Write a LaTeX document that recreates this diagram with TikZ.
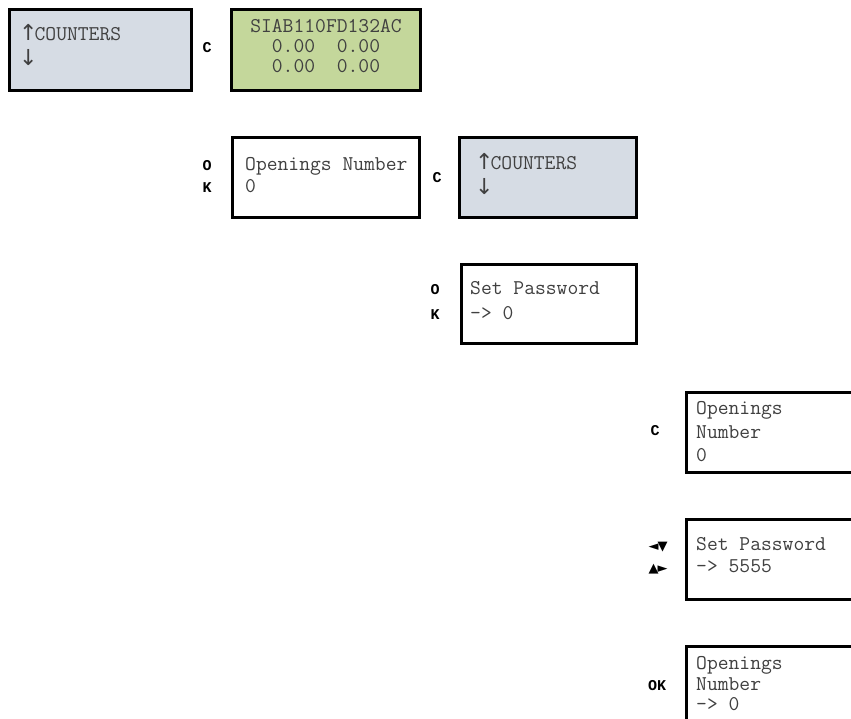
\documentclass[tikz,border=0pt]{standalone}
\usepackage{fontspec}
\newfontfamily\symfont{DejaVu Sans}
\newfontfamily\lblfont{Liberation Mono}
\definecolor{lcdgray}{HTML}{D6DCE4}
\definecolor{lcdgreen}{HTML}{C4D79B}
\definecolor{txt}{HTML}{404040}
\newcommand{\arr}[1]{{\symfont\fontsize{22}{22}\selectfont #1}}
\tikzset{
  lcd/.style={draw=black, line width=3pt},
  lcdtext/.style={anchor=mid west, inner sep=0pt, text=txt, font=\ttfamily\fontsize{21}{22}\selectfont},
  ctext/.style={anchor=mid, inner sep=0pt, text=txt, font=\ttfamily\fontsize{21}{22}\selectfont},
  keylbl/.style={anchor=mid, inner sep=0pt, text=black, font=\lblfont\bfseries\fontsize{15}{16}\selectfont},
  tri/.style={anchor=mid, inner sep=0pt, text=black, font=\symfont\fontsize{13}{14}\selectfont}
}
\begin{document}
\begin{tikzpicture}[x=1pt,y=-1pt]
\useasboundingbox (0,0) rectangle (851,719);
\clip (0,0) rectangle (851,719);
% boxes
\draw[lcd, fill=lcdgray] (9.5,9.5) rectangle (191.5,90.5) coordinate (b1);
\draw[lcd, fill=lcdgreen] (231.5,9.5) rectangle (420.5,90.5) coordinate (b2);
\draw[lcd, fill=white] (232.5,137.5) rectangle (419.5,217.5) coordinate (b3);
\draw[lcd, fill=lcdgray] (459.5,137.5) rectangle (636.5,217.5) coordinate (b4);
\draw[lcd, fill=white] (461.5,264.5) rectangle (636.5,343.5) coordinate (b5);
\draw[lcd, fill=white] (686.5,392.5) rectangle (880,472.5) coordinate (b6);
\draw[lcd, fill=white] (686.5,519.5) rectangle (880,599.5) coordinate (b7);
\draw[lcd, fill=white] (686.5,646.5) rectangle (880,740) coordinate (b8);
% box 1
\node[lcdtext] (t1a) at (19,38) {\arr{↑}\kern-3pt COUNTERS};
\node[lcdtext] (t1b) at (19,63) {\arr{↓}};
\node[keylbl] (k1) at (207,50) {C};
% box 2
\node[ctext] (t2a) at (326,30) {SIAB110FD132AC};
\node[ctext] (t2b) at (326,50) {0.00\ \ 0.00};
\node[ctext] (t2c) at (326,70) {0.00\ \ 0.00};
% box 3
\node[keylbl] (k3a) at (207,168) {O};
\node[keylbl] (k3b) at (207,190) {K};
\node[lcdtext] (t3a) at (245,168) {Openings Number};
\node[lcdtext] (t3b) at (245,190) {0};
\node[keylbl] (k4) at (437,180) {C};
% box 4
\node[lcdtext] (t4a) at (475,167) {\arr{↑}\kern-3pt COUNTERS};
\node[lcdtext] (t4b) at (475,192) {\arr{↓}};
% box 5
\node[keylbl] (k5a) at (435,292) {O};
\node[keylbl] (k5b) at (435,317) {K};
\node[lcdtext] (t5a) at (470,292) {Set Password};
\node[lcdtext] (t5b) at (470,317) {-> 0};
% box 6
\node[keylbl] (k6) at (655,433) {C};
\node[lcdtext] (t6a) at (696,412) {Openings};
\node[lcdtext] (t6b) at (696,436) {Number};
\node[lcdtext] (t6c) at (696,459) {0};
% box 7
\node[tri] (k7a) at (658,548) {◄\kern-1pt▼};
\node[tri] (k7b) at (658,570) {▲\kern-1pt►};
\node[lcdtext] (t7a) at (696,548) {Set Password};
\node[lcdtext] (t7b) at (696,570) {-> 5555};
% box 8
\node[keylbl] (k8) at (657,688) {OK};
\node[lcdtext] (t8a) at (696,667) {Openings};
\node[lcdtext] (t8b) at (696,688) {Number};
\node[lcdtext] (t8c) at (696,708) {-> 0};
\end{tikzpicture}
\end{document}
